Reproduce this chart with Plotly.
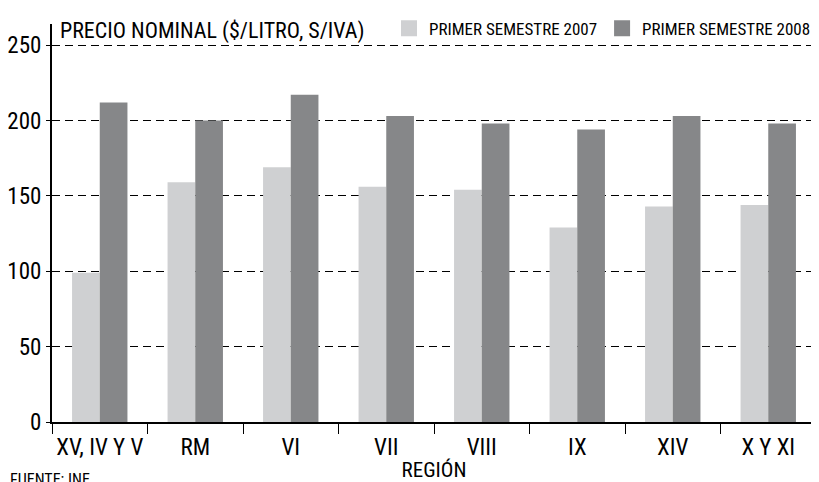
import plotly.graph_objects as go

# Data
regiones = ['XV, IV Y V', 'RM', 'VI', 'VII', 'VIII', 'IX', 'XIV', 'X Y XI']
sem_2007 = [99, 159, 169, 156, 154, 129, 143, 144]
sem_2008 = [212, 200, 217, 203, 198, 194, 203, 198]

FONT = "Roboto Condensed, Roboto, sans-serif"
LIGHT = '#cfd0d2'
DARK = '#868789'

fig = go.Figure()

fig.add_trace(go.Bar(x=regiones, y=sem_2007, name='PRIMER SEMESTRE 2007',
                     marker=dict(color=LIGHT, line=dict(width=0)), showlegend=False))
fig.add_trace(go.Bar(x=regiones, y=sem_2008, name='PRIMER SEMESTRE 2008',
                     marker=dict(color=DARK, line=dict(width=0)), showlegend=False))

# legend entries with bigger square swatches
fig.add_trace(go.Scatter(x=[None], y=[None], mode='markers', name='PRIMER SEMESTRE 2007',
                         marker=dict(symbol='square', size=20, color=LIGHT)))
fig.add_trace(go.Scatter(x=[None], y=[None], mode='markers', name='PRIMER SEMESTRE 2008',
                         marker=dict(symbol='square', size=20, color=DARK)))

# page body has an 8px margin, so figure is 8px smaller and margins shifted
fig.update_layout(
    width=811, height=474,
    margin=dict(l=44, r=3, t=7, b=60),
    paper_bgcolor='white', plot_bgcolor='white',
    font=dict(family=FONT, color='black'),
    barmode='group', bargap=0.42, bargroupgap=0,
    legend=dict(orientation='h', x=1.0, xanchor='right', y=0.988, yanchor='middle',
                font=dict(size=17), bgcolor='rgba(0,0,0,0)',
                itemwidth=30, tracegroupgap=0),
    xaxis=dict(showline=True, linecolor='black', linewidth=1.5,
               ticks='outside', ticklen=10, tickcolor='black', tickwidth=1,
               tickson='boundaries', tickfont=dict(size=23), tickangle=0,
               ticklabelstandoff=4, automargin=False,
               title=dict(text='REGIÓN', font=dict(size=21), standoff=4)),
    yaxis=dict(range=[0, 264], tickvals=[0, 50, 100, 150, 200, 250],
               showline=True, linecolor='black', linewidth=2,
               ticks='outside', ticklen=4, tickcolor='black',
               tickfont=dict(size=23), automargin=False,
               showgrid=True, gridcolor='black', gridwidth=1, griddash='8px,5px',
               zeroline=False),
    annotations=[
        dict(text='PRECIO NOMINAL ($/LITRO, S/IVA)', xref='paper', yref='paper',
             x=0.008, y=0.983, xanchor='left', yanchor='middle', showarrow=False,
             font=dict(size=22)),
        dict(text='FUENTE: INE.', xref='paper', yref='paper',
             x=-0.058, y=-0.115, xanchor='left', yanchor='top', showarrow=False,
             font=dict(size=16)),
    ],
)

fig.write_html("out.html")
